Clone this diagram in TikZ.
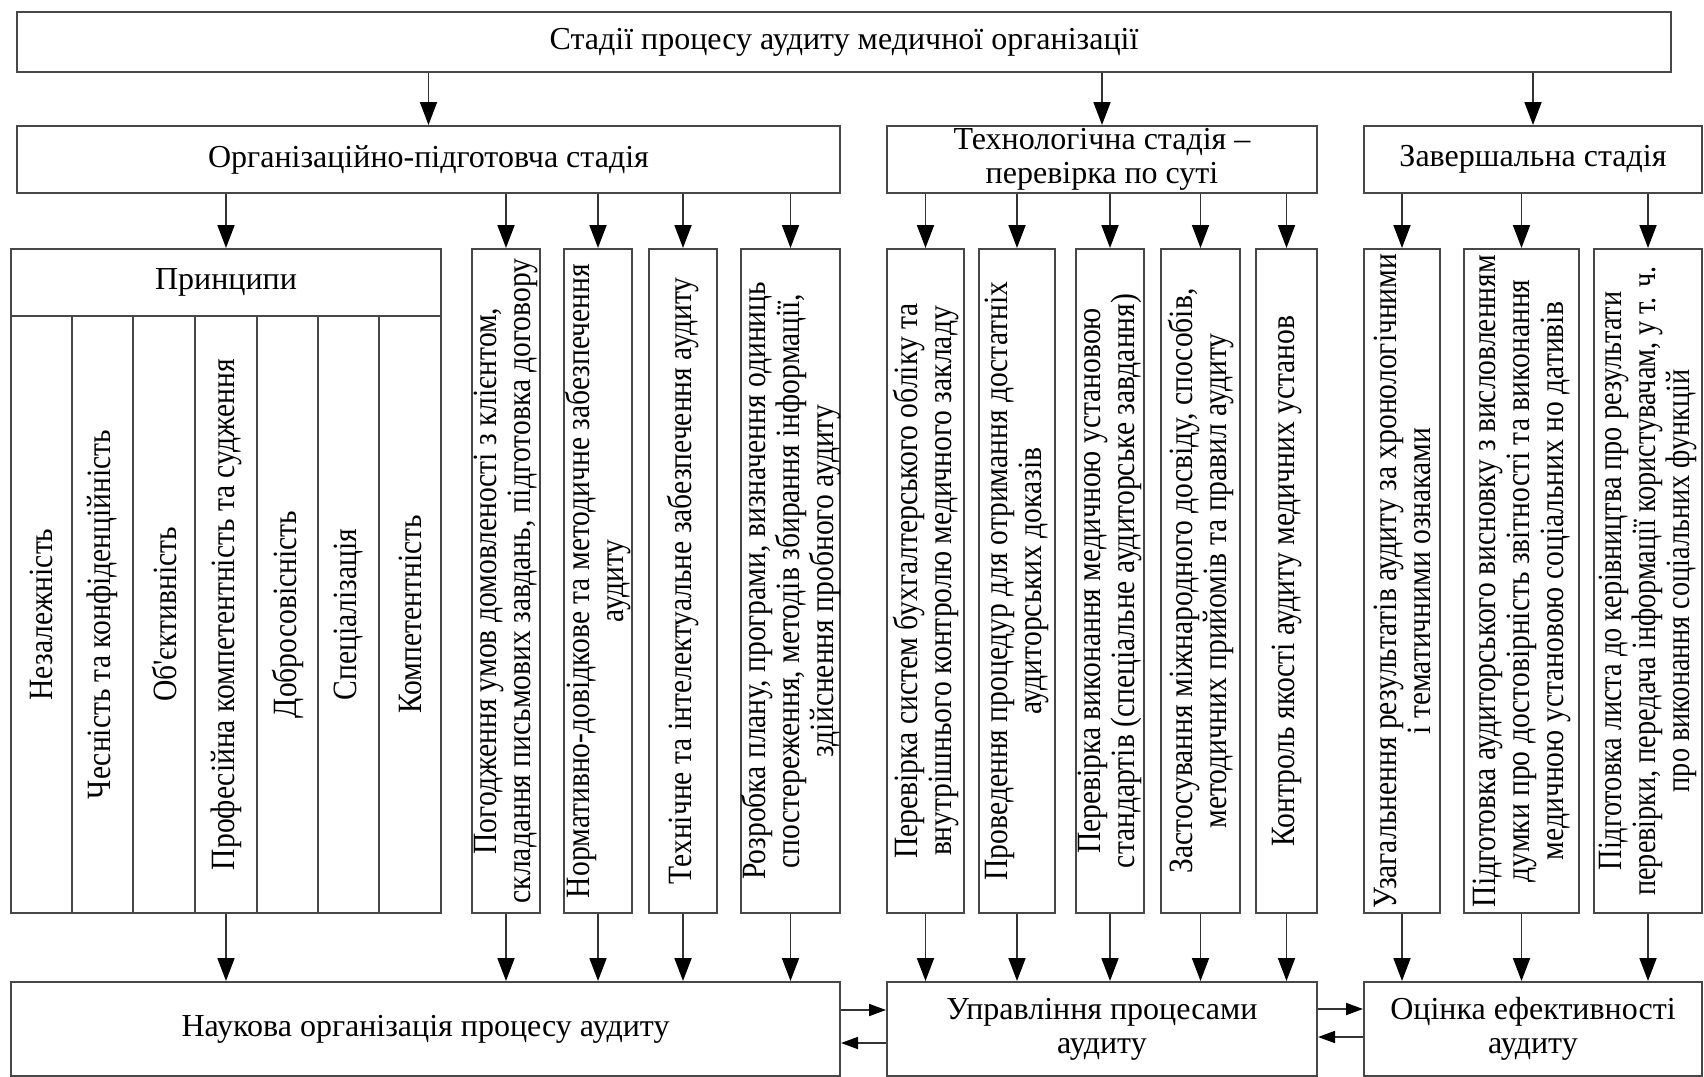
\documentclass[tikz,border=0pt]{standalone}
\usepackage{fontspec}
\setmainfont{Liberation Serif}
\newfontfamily\vfont[FakeStretch=0.87]{Liberation Serif}
\newfontfamily\vfontn[FakeStretch=0.83]{Liberation Serif}
\usetikzlibrary{arrows.meta,fit}
\begin{document}
\begin{tikzpicture}[x=0.5pt,y=-0.5pt,
  box/.style={draw=black!72, line width=1pt, inner sep=0pt},
  ht/.style={font=\fontsize{16}{17}\selectfont, align=center, inner sep=0pt},
  vt/.style={rotate=90, font=\vfont\fontsize{17}{17}\selectfont, align=center, inner sep=0pt},
  arr/.style={draw=black!80, line width=0.9pt, -{Triangle[length=11.5pt,width=8.5pt,color=black]}},
  harr/.style={draw=black!80, line width=0.9pt, -{Triangle[length=8.5pt,width=6pt,color=black]}}]
\useasboundingbox (0,0) rectangle (1704,1077);
% top
\node[box, fit={(17,12) (1671,72)}] (top) {};
\node[ht] (ttop) at (top) {Стадії процесу аудиту медичної організації};
% level 2
\node[box, fit={(17,126) (840,193)}] (org) {};
\node[ht] (torg) at (org) {Організаційно-підготовча стадія};
\node[box, fit={(887,126) (1317,193)}] (tech) {};
\node[ht] (ttech) at (tech) {Технологічна стадія –\\перевірка по суті};
\node[box, fit={(1364,126) (1702,193)}] (zav) {};
\node[ht] (tzav) at (zav) {Завершальна стадія};
% principles
\node[box, fit={(11,249) (441,913)}] (pr) {};
\node[box, fit={(11,249) (441,316)}] (prh) {};
\node[ht] (tprh) at (prh) {Принципи};
\node[box, fit={(11,316) (72,913)}] (c1) {};
\node[vt] (tc1) at (c1) {Незалежність};
\node[box, fit={(72,316) (133,913)}] (c2) {};
\node[vt] (tc2) at (c2) {Чесність та конфіденційність};
\node[box, fit={(133,316) (195,913)}] (c3) {};
\node[vt] (tc3) at (c3) {Об'єктивність};
\node[box, fit={(195,316) (257,913)}] (c4) {};
\node[vt] (tc4) at (c4) {Професійна компетентність та судження};
\node[box, fit={(257,316) (318,913)}] (c5) {};
\node[vt] (tc5) at (c5) {Добросовісність};
\node[box, fit={(318,316) (379,913)}] (c6) {};
\node[vt] (tc6) at (c6) {Спеціалізація};
\node[box, fit={(379,316) (441,913)}] (c7) {};
\node[vt] (tc7) at (c7) {Компетентність};
% org boxes
\node[box, fit={(472,249) (540,913)}] (b2) {};
\node[vt] (tb2) at (b2) {Погодження умов домовленості з клієнтом,\\складання письмових завдань, підготовка договору};
\node[box, fit={(564,249) (632,913)}] (b3) {};
\node[vt] (tb3) at (b3) {Нормативно-довідкове та методичне забезпечення\\аудиту};
\node[box, fit={(649,249) (717,913)}] (b4) {};
\node[vt] (tb4) at (b4) {Технічне та інтелектуальне забезпечення аудиту};
\node[box, fit={(741,249) (840,913)}] (b5) {};
\node[vt] (tb5) at (b5) {Розробка плану, програми, визначення одиниць\\спостереження, методів збирання інформації,\\здійснення пробного аудиту};
% tech boxes
\node[box, fit={(887,249) (964,913)}] (t1) {};
\node[vt] (tt1) at (t1) {Перевірка систем бухгалтерського обліку та\\внутрішнього контролю медичного закладу};
\node[box, fit={(979,249) (1055,913)}] (t2) {};
\node[vt] (tt2) at (t2) {Проведення процедур для отримання достатніх\\аудиторських доказів};
\node[box, fit={(1076,249) (1144,913)}] (t3) {};
\node[vt] (tt3) at (t3) {Перевірка виконання медичною установою\\стандартів (спеціальне аудиторське завдання)};
\node[box, fit={(1161,249) (1240,913)}] (t4) {};
\node[vt] (tt4) at (t4) {Застосування міжнародного досвіду, способів,\\методичних прийомів та правил аудиту};
\node[box, fit={(1256,249) (1317,913)}] (t5) {};
\node[vt] (tt5) at (t5) {Контроль якості аудиту медичних установ};
% final boxes
\node[box, fit={(1364,249) (1440,913)}] (z1) {};
\node[vt] (tz1) at (z1) {Узагальнення результатів аудиту за хронологічними\\і тематичними ознаками};
\node[box, fit={(1464,249) (1579,913)}] (z2) {};
\node[vt] (tz2) at (z2) {Підготовка аудиторського висновку з висловленням\\думки про достовірність звітності та виконання\\медичною установою соціальних но дативів};
\node[box, fit={(1594,249) (1702,913)}] (z3) {};
\node[vt, font=\vfontn\fontsize{17}{17}\selectfont] (tz3) at (z3) {Підготовка листа до керівництва про результати\\перевірки, передача інформації користувачам, у т. ч.\\про виконання соціальних функцій};
% bottom
\node[box, fit={(11,982) (840,1076)}] (nauk) {};
\node[ht] (tnauk) at (nauk) {Наукова організація процесу аудиту};
\node[box, fit={(887,982) (1317,1076)}] (upr) {};
\node[ht] (tupr) at (upr) {Управління процесами\\аудиту};
\node[box, fit={(1364,982) (1702,1076)}] (ots) {};
\node[ht] (tots) at (ots) {Оцінка ефективності\\аудиту};
% arrows top -> level 2
\foreach \s in {org,tech,zav} \draw[arr] (top.south -| \s.north) -- (\s.north);
% level 2 -> level 3
\foreach \s in {pr,b2,b3,b4,b5} \draw[arr] (org.south -| \s.north) -- (\s.north);
\foreach \s in {t1,t2,t3,t4,t5} \draw[arr] (tech.south -| \s.north) -- (\s.north);
\foreach \s in {z1,z2,z3} \draw[arr] (zav.south -| \s.north) -- (\s.north);
% level 3 -> bottom
\foreach \s in {pr,b2,b3,b4,b5} \draw[arr] (\s.south) -- (nauk.north -| \s.south);
\foreach \s in {t1,t2,t3,t4,t5} \draw[arr] (\s.south) -- (upr.north -| \s.south);
\foreach \s in {z1,z2,z3} \draw[arr] (\s.south) -- (ots.north -| \s.south);
% horizontal
\draw[harr] ([yshift=9.5pt]nauk.east) -- ([yshift=9.5pt]nauk.east -| upr.west);
\draw[harr] ([yshift=-7pt]upr.west) -- ([yshift=-7pt]upr.west -| nauk.east);
\draw[harr] ([yshift=10pt]upr.east) -- ([yshift=10pt]upr.east -| ots.west);
\draw[harr] ([yshift=-4pt]ots.west) -- ([yshift=-4pt]ots.west -| upr.east);
\end{tikzpicture}
\end{document}
